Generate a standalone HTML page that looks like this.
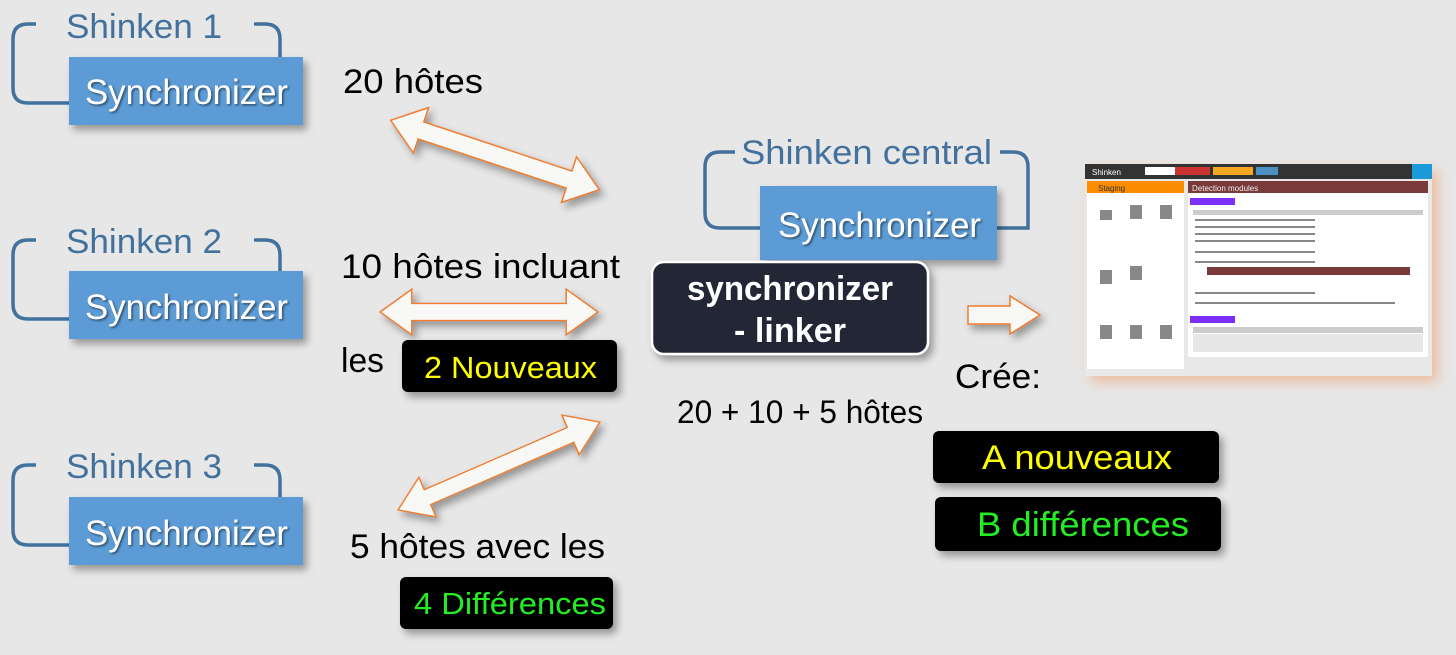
<!DOCTYPE html>
<html><head><meta charset="utf-8"><style>
html,body{margin:0;padding:0;background:#e7e7e7;}
svg{display:block}
text{font-family:"Liberation Sans",sans-serif;}
</style></head><body>
<svg width="1456" height="655" viewBox="0 0 1456 655" xmlns="http://www.w3.org/2000/svg">
<defs>
<filter id="sh" x="-20%" y="-20%" width="150%" height="160%"><feDropShadow dx="4" dy="5" stdDeviation="4" flood-color="#000" flood-opacity="0.35"/></filter>
<filter id="ts" x="-5%" y="-20%" width="110%" height="140%"><feDropShadow dx="1.5" dy="1.5" stdDeviation="1" flood-color="#000" flood-opacity="0.5"/></filter>
<filter id="glow" x="-10%" y="-10%" width="125%" height="125%"><feDropShadow dx="6" dy="6" stdDeviation="6" flood-color="#f0a070" flood-opacity="0.6"/></filter>
<polygon id="da" points="-110,0 -78,-24 -78,-9 78,-9 78,-24 110,0 78,24 78,9 -78,9 -78,24"/>
</defs>
<rect width="1456" height="655" fill="#e7e7e7"/>

<g fill="none" stroke="#41719c" stroke-width="3.5">
<path d="M36,24 H28 Q13,24 13,39 V88 Q13,103 28,103 H69"/>
<path d="M254,24 H265 Q280,24 280,39 V57"/>
<path d="M36,240 H28 Q13,240 13,255 V304 Q13,319 28,319 H69"/>
<path d="M254,240 H265 Q280,240 280,255 V271"/>
<path d="M36,465 H28 Q13,465 13,480 V530 Q13,545 28,545 H69"/>
<path d="M254,465 H265 Q280,465 280,480 V497"/>
<path d="M735,152 H720 Q705,152 705,167 V213 Q705,228 720,228 H760"/>
<path d="M1000,152 H1013 Q1028,152 1028,167 V228 H997"/>
</g>
<g fill="#41719c" font-size="34" lengthAdjust="spacingAndGlyphs">
<text x="66" y="38" textLength="156" lengthAdjust="spacingAndGlyphs">Shinken 1</text>
<text x="66" y="253" textLength="156" lengthAdjust="spacingAndGlyphs">Shinken 2</text>
<text x="66" y="478" textLength="156" lengthAdjust="spacingAndGlyphs">Shinken 3</text>
<text x="741" y="164" textLength="251" lengthAdjust="spacingAndGlyphs">Shinken central</text>
</g>
<g fill="#5b9bd5" filter="url(#sh)">
<rect x="69" y="57" width="234" height="68"/>
<rect x="69" y="271" width="234" height="68"/>
<rect x="69" y="497" width="234" height="68"/>
<rect x="760" y="186" width="237" height="74"/>
</g>
<g fill="#fff" font-size="35" filter="url(#ts)">
<text x="85" y="104" textLength="203" lengthAdjust="spacingAndGlyphs">Synchronizer</text>
<text x="85" y="319" textLength="203" lengthAdjust="spacingAndGlyphs">Synchronizer</text>
<text x="85" y="545" textLength="203" lengthAdjust="spacingAndGlyphs">Synchronizer</text>
<text x="778" y="237" textLength="203" lengthAdjust="spacingAndGlyphs">Synchronizer</text>
</g>

<rect x="652" y="262" width="276" height="92" rx="12" fill="#222836" stroke="#fff" stroke-width="2.5" filter="url(#sh)"/>
<g fill="#fff" font-size="34" font-weight="bold" text-anchor="middle">
<text x="790" y="300" textLength="206" lengthAdjust="spacingAndGlyphs">synchronizer</text>
<text x="790" y="342" textLength="112" lengthAdjust="spacingAndGlyphs">- linker</text>
</g>

<g fill="#f8f8f6" stroke="#ed7d31" stroke-width="1.5" filter="url(#sh)">
<use href="#da" transform="translate(495,155) rotate(18.4)"/>
<use href="#da" transform="translate(489,312) scale(0.99,0.95)"/>
<use href="#da" transform="translate(499,466) rotate(-23.5) scale(1.0,0.9)"/>
<polygon points="968,306 1010,306 1010,296 1040,315 1010,334 1010,324 968,324"/>
</g>

<g fill="#000" font-size="34">
<text x="343" y="93" textLength="140" lengthAdjust="spacingAndGlyphs">20 hôtes</text>
<text x="341" y="278" textLength="279" lengthAdjust="spacingAndGlyphs">10 hôtes incluant</text>
<text x="341" y="372" textLength="43" lengthAdjust="spacingAndGlyphs">les</text>
<text x="350" y="558" textLength="255" lengthAdjust="spacingAndGlyphs">5 hôtes avec les</text>
<text x="677" y="423" font-size="32" textLength="246" lengthAdjust="spacingAndGlyphs">20 + 10 + 5 hôtes</text>
<text x="955" y="388" textLength="86" lengthAdjust="spacingAndGlyphs">Crée:</text>
</g>
<g filter="url(#sh)">
<rect x="402" y="340" width="215" height="52" rx="6" fill="#000"/>
<rect x="400" y="577" width="213" height="52" rx="6" fill="#000"/>
<rect x="933" y="431" width="286" height="52" rx="6" fill="#000"/>
<rect x="935" y="497" width="286" height="54" rx="6" fill="#000"/>
</g>
<g font-size="31">
<text x="424" y="378" fill="#ffff00" textLength="173" lengthAdjust="spacingAndGlyphs">2 Nouveaux</text>
<text x="414" y="614" fill="#22ee22" textLength="192" lengthAdjust="spacingAndGlyphs">4 Différences</text>
<text x="982" y="469" fill="#ffff00" font-size="34" textLength="190" lengthAdjust="spacingAndGlyphs">A nouveaux</text>
<text x="977" y="536" fill="#22ee22" font-size="34" textLength="212" lengthAdjust="spacingAndGlyphs">B différences</text>
</g>

<g filter="url(#glow)">
<rect x="1085" y="164" width="347" height="212" fill="#e8e8e8"/>
</g>
<rect x="1085" y="164" width="347" height="15" fill="#333"/>
<rect x="1412" y="164" width="20" height="15" fill="#1a9ad9"/>
<rect x="1145" y="167" width="65" height="8" fill="#fff"/>
<rect x="1175" y="167" width="35" height="8" fill="#c33"/>
<rect x="1213" y="167" width="40" height="8" fill="#f5a623"/>
<rect x="1256" y="167" width="22" height="8" fill="#4a90c0"/>
<text x="1092" y="175" font-size="8" fill="#fff">Shinken</text>
<rect x="1087" y="181" width="97" height="188" fill="#fff"/>
<rect x="1087" y="181" width="97" height="12" fill="#fb8c00"/>
<text x="1098" y="191" font-size="8" fill="#333">Staging</text>
<rect x="1188" y="181" width="240" height="12" fill="#7a3a3a"/>
<text x="1192" y="191" font-size="8" fill="#eee">Detection modules</text>
<rect x="1188" y="193" width="240" height="164" fill="#fff"/>
<rect x="1190" y="198" width="45" height="7" fill="#7b2ff7"/>
<rect x="1190" y="316" width="45" height="7" fill="#7b2ff7"/>
<rect x="1193" y="210" width="230" height="5" fill="#ccc"/>
<rect x="1207" y="267" width="203" height="8" fill="#7a3a3a"/>
<rect x="1193" y="327" width="230" height="6" fill="#ccc"/>
<rect x="1193" y="334" width="230" height="18" fill="#e6e6e6"/>
<g fill="#888">
<rect x="1195" y="219" width="120" height="2"/><rect x="1195" y="226" width="120" height="2"/>
<rect x="1195" y="233" width="120" height="2"/><rect x="1195" y="240" width="120" height="2"/>
<rect x="1195" y="251" width="120" height="2"/><rect x="1195" y="261" width="120" height="2"/>
<rect x="1195" y="292" width="120" height="2"/><rect x="1195" y="302" width="200" height="2"/>
<rect x="1100" y="210" width="12" height="10"/><rect x="1130" y="205" width="12" height="14"/><rect x="1160" y="205" width="12" height="14"/>
<rect x="1100" y="270" width="12" height="14"/><rect x="1130" y="266" width="12" height="14"/>
<rect x="1100" y="325" width="12" height="14"/><rect x="1130" y="325" width="12" height="14"/><rect x="1160" y="325" width="12" height="14"/>
</g>
</svg>
</body></html>
